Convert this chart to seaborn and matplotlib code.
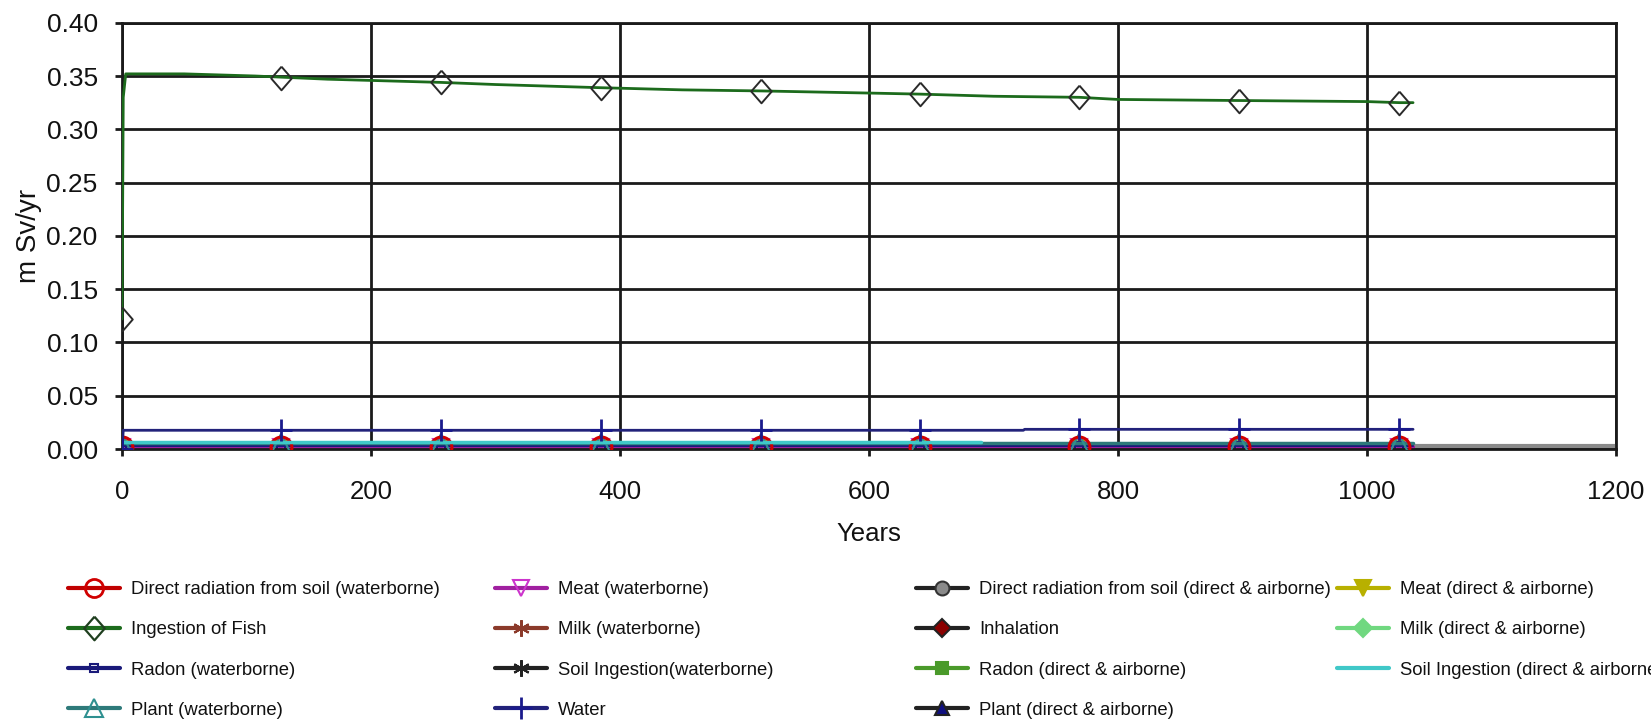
import numpy as np
import pandas as pd
import matplotlib
matplotlib.use("Agg")
import matplotlib.pyplot as plt
from matplotlib.lines import Line2D
import seaborn as sns

# ---------------- data ----------------
x_ticks = [0, 200, 400, 600, 800, 1000, 1200]
y_ticks = [0.00, 0.05, 0.10, 0.15, 0.20, 0.25, 0.30, 0.35, 0.40]

# Ingestion of fish (main curve)
fish_years = [0, 1, 3, 50, 107, 165, 256, 300, 385, 450, 513, 600, 641, 700, 769, 800, 897, 1000, 1026, 1037]
fish_vals = [0.122, 0.330, 0.352, 0.352, 0.350, 0.347, 0.344, 0.342, 0.339, 0.337, 0.336, 0.334, 0.333, 0.331,
             0.330, 0.328, 0.327, 0.326, 0.325, 0.325]
fish_marker_years = [0, 128, 256, 385, 513, 641, 769, 897, 1026]
fish_marker_vals = [0.122, 0.348, 0.344, 0.339, 0.336, 0.333, 0.330, 0.327, 0.325]

# common marker years for the low series
low_years = [0, 128, 256, 385, 513, 641, 769, 897, 1026, 1037]

water_years = [0, 1, 128, 256, 385, 513, 641, 724, 725, 769, 897, 1026, 1037]
water_vals = [0.0, 0.0176, 0.0176, 0.0176, 0.0176, 0.0176, 0.0176, 0.0176, 0.0185, 0.0185, 0.0185, 0.0185, 0.0185]
water_marker_idx = [0, 2, 3, 4, 5, 6, 9, 10, 11]

direct_soil_w = [0.002] * 10
meat_w = [0.002] * 10
radon_w = [0.003] * 10
plant_w = [0.006] * 10
milk_w = [0.001] * 10
soil_ing_w = [0.0005] * 10

direct_soil_da_years = [0, 128, 256, 385, 513, 641, 769, 897, 1026, 1037, 1200]
direct_soil_da = [0.003] * 11
inhalation = [0.0005] * 10
radon_da = [0.001] * 10
plant_da = [0.0005] * 10
meat_da = [0.0003] * 10
milk_da = [0.0003] * 10
soil_ing_da_years = [0, 128, 256, 385, 513, 641, 690]
soil_ing_da = [0.0066] * 7

labels = [
    "Direct radiation from soil (waterborne)", "Ingestion of Fish", "Radon (waterborne)", "Plant (waterborne)",
    "Meat (waterborne)", "Milk (waterborne)", "Soil Ingestion(waterborne)", "Water",
    "Direct radiation from soil (direct & airborne)", "Inhalation", "Radon (direct & airborne)",
    "Plant (direct & airborne)",
    "Meat (direct & airborne)", "Milk (direct & airborne)", "Soil Ingestion (direct & airborne)",
]

# ---------------- figure ----------------
sns.set_theme(style="white")
plt.rcParams['font.family'] = ['Liberation Sans', 'DejaVu Sans']

fig = plt.figure(figsize=(16.51, 7.21), dpi=100)
ax = fig.add_axes([0.0739, 0.3772, 0.9049, 0.5913])

asterisk = (6, 2, 0)
diamond_tall = [(0, 1), (0.87, 0), (0, -1), (-0.87, 0), (0, 1)]
handles = {}


def draw(xs, ys, label, color, lw=2.0, marker=None, ms=10, mfc='none', mec=None, mew=1.5,
         markevery=None, z=2, ls='-'):
    df = pd.DataFrame({"x": xs, "y": ys})
    before = len(ax.lines)
    sns.lineplot(data=df, x="x", y="y", ax=ax, estimator=None, sort=False, color=color, lw=lw,
                 marker=marker, markersize=ms, markerfacecolor=mfc,
                 markeredgecolor=mec if mec is not None else color, markeredgewidth=mew,
                 markevery=markevery, zorder=z, linestyle=ls, label=label)
    handles[label] = ax.lines[before]


mk = list(range(9))

# low series
draw(direct_soil_da_years, direct_soil_da, labels[8], '#8a8a8a', lw=3, marker='o', ms=10, mfc='#8a8a8a',
     mec='#333333', markevery=mk, z=2)
draw(low_years, soil_ing_w, labels[6], '#222222', marker=asterisk, ms=12, markevery=mk, z=2.1)
draw(low_years, inhalation, labels[9], '#222222', marker='D', ms=9, mfc='#8b0000', mec='#222222',
     markevery=mk, z=2.1)
draw(low_years, plant_da, labels[11], '#222222', marker='^', ms=10, mfc='#101080', mec='#222222',
     markevery=mk, z=2.1)
draw(low_years, meat_da, labels[12], '#b8b000', lw=2.5, marker='v', ms=11, mfc='#b8b000', mec='#b8b000',
     markevery=mk, z=2.2)
draw(low_years, milk_da, labels[13], '#70d880', lw=2.5, marker='D', ms=9, mfc='#70d880', mec='#70d880',
     markevery=mk, z=2.2)
draw(low_years, radon_da, labels[10], '#4a9a2a', lw=2, marker='s', ms=8, mfc='#4a9a2a', mec='#4a9a2a',
     markevery=mk, z=2.3)
draw(low_years, milk_w, labels[5], '#8b3a2a', marker=asterisk, ms=12, markevery=mk, z=2.3)
# direct radiation (waterborne): line below the magenta line, circles on top of the cluster
draw(low_years, direct_soil_w, labels[0], '#c00000', lw=2, z=2.35)
sns.lineplot(x=low_years[:9], y=direct_soil_w[:9], ax=ax, estimator=None, sort=False, lw=0,
             marker='o', markersize=15, markerfacecolor='none', markeredgecolor='#d00000',
             markeredgewidth=2.2, zorder=2.65)
handles[labels[0]] = Line2D([], [], color='#c00000', lw=2, marker='o', markersize=13,
                            markerfacecolor='none', markeredgecolor='#d00000', markeredgewidth=2)
draw(low_years, meat_w, labels[4], '#a020a0', lw=3, marker='v', ms=12, mfc='none', mec='#cc33cc',
     markevery=mk, z=2.5)
draw(low_years, radon_w, labels[2], '#1a1a7a', lw=1.5, marker='s', ms=6, mfc='none', mec='#1a1a7a',
     markevery=mk, z=2.5)
draw(low_years, plant_w, labels[3], '#2e7a7a', lw=2.5, marker='^', ms=13, mfc='none', mec='#2e9090',
     markevery=mk, z=2.6)
draw(soil_ing_da_years, soil_ing_da, labels[14], '#40c8c8', lw=2.5, z=2.7)
draw(water_years, water_vals, labels[7], '#22227a', lw=2, marker='+', ms=16, mec='#1a1a8c', mew=2,
     markevery=water_marker_idx, z=2.8)

# fish
draw(fish_years, fish_vals, labels[1], '#1c6b1c', lw=2, z=3)
sns.lineplot(x=fish_marker_years, y=fish_marker_vals, ax=ax, estimator=None, sort=False, lw=0,
             marker=diamond_tall, markersize=17, markerfacecolor='none', markeredgecolor='#2a2a2a',
             markeredgewidth=1.4, zorder=3.1)
# legend handle for fish with diamond marker
handles[labels[1]] = Line2D([], [], color='#1c6b1c', lw=2, marker=diamond_tall, markersize=17,
                            markerfacecolor='none', markeredgecolor='#1f3f1f', markeredgewidth=1.6)
# legend handle for direct radiation (d&a): black line, grey marker
handles[labels[8]] = Line2D([], [], color='#222222', lw=2, marker='o', markersize=10,
                            markerfacecolor='#8a8a8a', markeredgecolor='#333333', markeredgewidth=1.5)

if ax.get_legend() is not None:
    ax.get_legend().remove()

# ---------------- axes styling ----------------
ax.set_xlim(0, 1200)
ax.set_ylim(0, 0.40)
ax.set_xticks(x_ticks)
ax.set_yticks(y_ticks)
ax.set_yticklabels([f"{v:.2f}" for v in y_ticks])
ax.grid(True, color='#1a1a1a', lw=2)
ax.tick_params(axis='both', which='major', direction='out', length=5, width=2, color='#1a1a1a',
               colors='#111111')
ax.tick_params(axis='x', pad=17.5, labelsize=18.5, bottom=True)
ax.tick_params(axis='y', pad=12.5, labelsize=19, left=True)
for sp in ax.spines.values():
    sp.set_color('#1a1a1a')
    sp.set_linewidth(2)
ax.set_xlabel("Years", fontsize=18.5, labelpad=13, color='#111111')
ax.set_ylabel("m Sv/yr", fontsize=20, labelpad=3, color='#111111')

# ---------------- legends (4 columns) ----------------
cols = [labels[0:4], labels[4:8], labels[8:12], labels[12:15]]
col_x = [68, 495, 916, 1337]
for labs, xpx in zip(cols, col_x):
    leg = fig.legend([handles[l] for l in labs], labs, loc='upper left',
                     bbox_to_anchor=(xpx / 1651, 1 - 581 / 721), frameon=False, borderpad=0,
                     borderaxespad=0, fontsize=13.3, handlelength=2.8, handletextpad=0.6,
                     labelspacing=1.26, numpoints=1)
    for t in leg.get_texts():
        t.set_color('#111111')
    for h in leg.legend_handles:
        h.set_linewidth(3)

fig.savefig("out.png", dpi=100)
